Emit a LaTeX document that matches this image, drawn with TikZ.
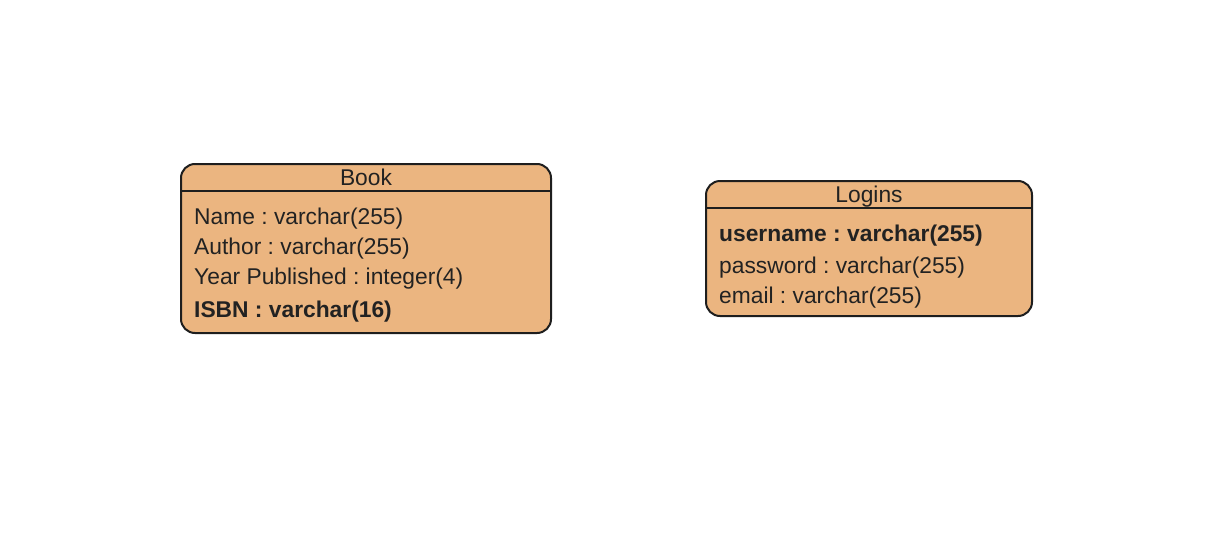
\documentclass[tikz,border=0pt]{standalone}
\usepackage{fontspec}
\setmainfont{Liberation Sans}
\definecolor{entfill}{RGB}{235,181,128}
\definecolor{entline}{RGB}{30,30,30}
\definecolor{txt}{RGB}{34,34,34}
\begin{document}
\frenchspacing
\begin{tikzpicture}[x=1pt,y=-1pt,
  entity/.style={draw=entline, fill=entfill, line width=2pt, rounded corners=14pt, rectangle, inner sep=0pt},
  hdrline/.style={draw=entline, line width=1.8pt},
  title/.style={font=\fontsize{22.8}{25}\selectfont, text=txt, inner sep=0pt, anchor=base},
  attr/.style={font=\fontsize{22.8}{25}\selectfont, text=txt, inner sep=0pt, anchor=base west},
  key/.style={attr, font=\fontsize{22.8}{25}\selectfont\bfseries}]
\useasboundingbox (0,0) rectangle (1231,538);
% Book
\node[entity, minimum width=370pt, minimum height=169pt] (book) at (366,248.5) {};
\coordinate (bookL) at (181,191);
\coordinate (bookR) at (551,191);
\draw[hdrline] (bookL) -- (bookR);
\node[title] (booktitle) at (366,185) {Book};
\node[attr] (bname) at (194,224) {Name : varchar(255)};
\node[attr] (bauthor) at (194,254) {Author : varchar(255)};
\node[attr] (byear) at (194,284) {Year Published : integer(4)};
\node[key] (bisbn) at (194,317) {ISBN : varchar(16)};
% Logins
\node[entity, minimum width=326pt, minimum height=135pt] (logins) at (869,248.5) {};
\coordinate (logL) at (706,208);
\coordinate (logR) at (1032,208);
\draw[hdrline] (logL) -- (logR);
\node[title] (logtitle) at (869,202) {Logins};
\node[key] (luser) at (719,241) {username : varchar(255)};
\node[attr] (lpass) at (719,273) {password : varchar(255)};
\node[attr] (lemail) at (719,303) {email : varchar(255)};
\end{tikzpicture}
\end{document}
